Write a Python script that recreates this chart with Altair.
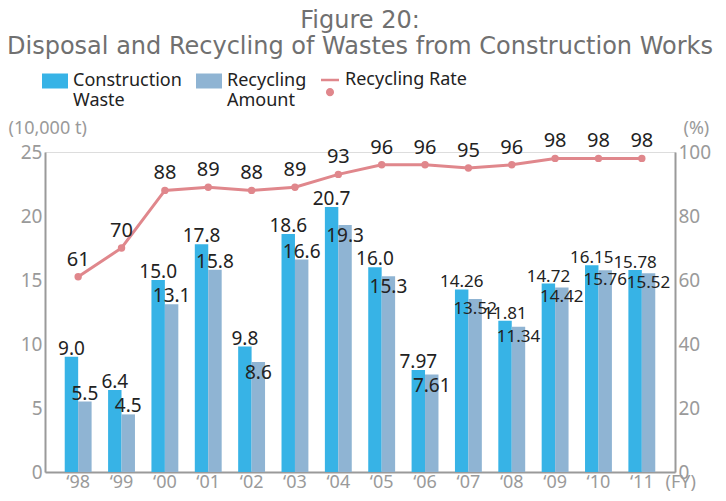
import altair as alt
import pandas as pd

years = ["\u201898", "\u201899", "\u201800", "\u201801", "\u201802", "\u201803", "\u201804",
         "\u201805", "\u201806", "\u201807", "\u201808", "\u201809", "\u201810", "\u201811"]
construction_waste = [9.0, 6.4, 15.0, 17.8, 9.8, 18.6, 20.7, 16.0, 7.97, 14.26, 11.81, 14.72, 16.15, 15.78]
construction_labels = ["9.0", "6.4", "15.0", "17.8", "9.8", "18.6", "20.7", "16.0", "7.97", "14.26", "11.81", "14.72", "16.15", "15.78"]
recycling_amount = [5.5, 4.5, 13.1, 15.8, 8.6, 16.6, 19.3, 15.3, 7.61, 13.52, 11.34, 14.42, 15.76, 15.52]
recycling_labels = ["5.5", "4.5", "13.1", "15.8", "8.6", "16.6", "19.3", "15.3", "7.61", "13.52", "11.34", "14.42", "15.76", "15.52"]
recycling_rate = [61, 70, 88, 89, 88, 89, 93, 96, 96, 95, 96, 98, 98, 98]
series_names = ["Construction Waste", "Recycling Amount"]
series_colors = ["#37B3E6", "#8FB4D3"]
rate_name = "Recycling Rate"
rate_color = "#E0878C"

FONT = "Noto Sans"
TITLE_FONT = "DejaVu Sans"
AXIS_GRAY = "#9a9a9a"
TEXT_DARK = "#222222"

rows = []
for i, y in enumerate(years):
    gap = construction_waste[i] - recycling_amount[i]
    rows.append({"year": y, "series": series_names[0], "value": construction_waste[i],
                 "label": construction_labels[i], "inside": False})
    rows.append({"year": y, "series": series_names[1], "value": recycling_amount[i],
                 "label": recycling_labels[i], "inside": gap < 1.5})
bars_df = pd.DataFrame(rows)
rate_df = pd.DataFrame({"year": years, "rate": recycling_rate, "legend": [rate_name] * len(years)})

x_enc = alt.X("year:N", sort=years,
              scale=alt.Scale(domain=years, paddingInner=0.38, paddingOuter=0.455),
              axis=alt.Axis(orient="bottom", labelAngle=0, ticks=False, domainColor=AXIS_GRAY,
                            domainWidth=2, labelColor=AXIS_GRAY, labelFontSize=18, labelFont=FONT,
                            labelPadding=1, title="(FY)", titleColor=AXIS_GRAY, titleFontSize=18,
                            titleFont=FONT, titleFontWeight="normal", titleAlign="left",
                            titleBaseline="top", titleAnchor="start", titleX=620, titleY=1))

y_left = alt.Y("value:Q", scale=alt.Scale(domain=[0, 25], nice=False),
               axis=alt.Axis(orient="left", values=[0, 5, 10, 15, 20, 25], grid=False, ticks=False,
                             domainColor=AXIS_GRAY, domainWidth=2, labelColor=AXIS_GRAY,
                             labelFontSize=19, labelFont=FONT, labelPadding=3,
                             title="(10,000 t)", titleAngle=0, titleAlign="left", titleBaseline="middle",
                             titleX=-37, titleY=-24, titleColor=AXIS_GRAY, titleFontSize=18,
                             titleFont=FONT, titleFontWeight="normal"))
y_right = alt.Y("rate:Q", scale=alt.Scale(domain=[0, 100], nice=False),
                axis=alt.Axis(orient="right", values=[0, 20, 40, 60, 80, 100], grid=False, ticks=False,
                              domainColor=AXIS_GRAY, domainWidth=2, labelColor=AXIS_GRAY,
                              labelFontSize=19, labelFont=FONT, labelPadding=3,
                              title="(%)", titleAngle=0, titleAlign="left", titleBaseline="middle",
                              titleX=8, titleY=-24, titleColor=AXIS_GRAY, titleFontSize=18,
                              titleFont=FONT, titleFontWeight="normal"))

xoff = alt.XOffset("series:N", sort=series_names,
                   scale=alt.Scale(domain=series_names, paddingInner=0, paddingOuter=0))

bar_symbol = "M-1,-0.577L1,-0.577L1,0.577L-1,0.577Z"
rate_symbol = ("M-1,-0.15L1,-0.15L1,0.15L-1,0.15Z "
               "M-0.45,1.35A0.45,0.45 0 1,0 0.45,1.35A0.45,0.45 0 1,0 -0.45,1.35Z")

bars = alt.Chart(bars_df).mark_bar().encode(
    x=x_enc,
    xOffset=xoff,
    y=y_left,
    fill=alt.Fill("series:N", sort=series_names,
                  scale=alt.Scale(domain=series_names, range=series_colors),
                  legend=alt.Legend(orient="none", legendX=-3, legendY=-84, direction="horizontal",
                                    title=None, symbolType=bar_symbol, symbolSize=676,
                                    symbolStrokeWidth=0, labelFont=FONT, labelFontSize=18,
                                    labelColor=TEXT_DARK, labelOffset=5, columnPadding=14,
                                    padding=0, labelLimit=300,
                                    labelExpr="datum.label == 'Construction Waste' ? ['Construction', 'Waste'] : ['Recycling', 'Amount']")),
)

label_size = alt.condition("length(datum.label) > 4", alt.value(17), alt.value(19))
text_base = alt.Chart(bars_df).encode(x=x_enc, xOffset=xoff, y=y_left, text="label:N", size=label_size)
text_above = text_base.mark_text(baseline="alphabetic", dy=-2, font=FONT,
                                  color=TEXT_DARK).transform_filter("!datum.inside")
text_inside = text_base.mark_text(baseline="top", dy=2, font=FONT,
                                   color=TEXT_DARK).transform_filter("datum.inside")

left = alt.layer(bars, text_above, text_inside)

line = alt.Chart(rate_df).mark_line(color=rate_color, strokeWidth=3).encode(
    x=x_enc,
    y=y_right,
)
points = alt.Chart(rate_df).mark_circle(size=55, opacity=1).encode(
    x=x_enc,
    y=y_right,
    fill=alt.Fill("legend:N", scale=alt.Scale(domain=[rate_name], range=[rate_color]),
                  legend=alt.Legend(orient="none", legendX=276, legendY=-81, title=None,
                                    symbolType=rate_symbol, symbolSize=324, symbolStrokeWidth=0,
                                    labelFont=FONT, labelFontSize=18, labelColor=TEXT_DARK,
                                    labelOffset=6, padding=0, labelLimit=300)),
)
rate_text = alt.Chart(rate_df).mark_text(baseline="alphabetic", dy=-11, font=FONT, fontSize=20,
                                          color=TEXT_DARK).encode(
    x=x_enc,
    y=y_right,
    text="rate:Q",
)
right = alt.layer(line, points, rate_text)

chart = alt.layer(left, right).resolve_scale(
    y="independent", fill="independent"
).resolve_legend(fill="independent").properties(
    width=630,
    height=320,
    padding={"left": 37, "top": 144, "right": 43, "bottom": 21},
    autosize=alt.AutoSizeParams(type="none"),
    title=alt.Title(["Figure 20:", "Disposal and Recycling of Wastes from Construction Works"],
                    anchor="middle", frame="group", font=TITLE_FONT, fontSize=24, fontWeight="normal",
                    color="#707070", lineHeight=26, offset=0, dy=-9),
).configure_view(stroke=None).configure(background="white")

chart.save("out.html", embed_options={"renderer": "svg", "actions": False})
